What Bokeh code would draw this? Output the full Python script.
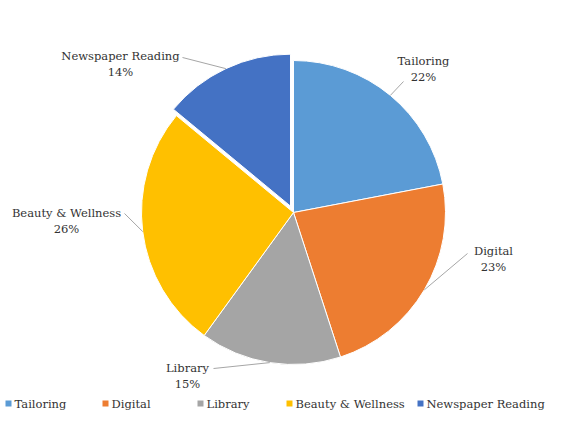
import math
from bokeh.plotting import figure
from bokeh.models import Range1d, ColumnDataSource
from bokeh.core.properties import value
from bokeh.embed import file_html
from bokeh.resources import INLINE

# ---- data ----
categories = ["Tailoring", "Digital", "Library", "Beauty & Wellness", "Newspaper Reading"]
percents = [22, 23, 15, 26, 14]
pct_labels = ["22%", "23%", "15%", "26%", "14%"]
colors = ["#5B9BD5", "#ED7D31", "#A5A5A5", "#FFC000", "#4472C4"]
explode = [0, 0, 0, 0, 7]

# ---- layout (screen px; data y = -screen y) ----
W, H = 552, 412
CX, CY, R = 293, -212, 152
FONT = "DejaVu Serif"
TXT = "#333333"
label_pos = [(423, 60), (493, 250), (187, 367), (66, 212), (120, 55)]
leader_start = [(403, 81), (467, 253), (213, 368), (124, 213), (182, 57)]
legend_x = [8, 105, 200, 289, 420]
legend_y = 403

p = figure(width=W, height=H, x_range=Range1d(0, W), y_range=Range1d(-H, 0),
           output_backend="svg", toolbar_location=None, min_border=0)
p.axis.visible = False
p.grid.visible = False
p.outline_line_color = None
p.background_fill_color = "white"

total = float(sum(percents))
starts, ends, xs, ys, mids = [], [], [], [], []
cum = 0.0
for v, d in zip(percents, explode):
    a0 = 90 - 360 * (cum + v) / total
    a1 = 90 - 360 * cum / total
    cum += v
    mid = math.radians((a0 + a1) / 2)
    starts.append(math.radians(a0))
    ends.append(math.radians(a1))
    mids.append(mid)
    xs.append(CX + d * math.cos(mid))
    ys.append(CY + d * math.sin(mid))

src = ColumnDataSource(dict(x=xs, y=ys, s=starts, e=ends, c=colors))
p.wedge(x="x", y="y", radius=R, start_angle="s", end_angle="e", fill_color="c",
        line_color="white", line_width=1, source=src)

for i in range(len(categories)):
    ex = xs[i] + R * math.cos(mids[i])
    ey = ys[i] + R * math.sin(mids[i])
    sx, sy = leader_start[i]
    p.line([sx, ex], [-sy, ey], line_color="#a6a6a6", line_width=1)
    lx, ly = label_pos[i]
    p.text(x=[lx], y=[-ly], text=[categories[i]], text_font=value(FONT), text_font_size="11.5px",
           text_color=TXT, text_align="center", text_baseline="middle")
    p.text(x=[lx], y=[-ly - 16], text=[pct_labels[i]], text_font=value(FONT), text_font_size="11.5px",
           text_color=TXT, text_align="center", text_baseline="middle")

for i in range(len(categories)):
    p.scatter([legend_x[i]], [-legend_y], marker="square", size=6, fill_color=colors[i], line_color=None)
    p.text(x=[legend_x[i] + 6], y=[-legend_y], text=[categories[i]], text_font=value(FONT),
           text_font_size="11.5px", text_color=TXT, text_align="left", text_baseline="middle")

open("out.html", "w").write(file_html(p, INLINE))
